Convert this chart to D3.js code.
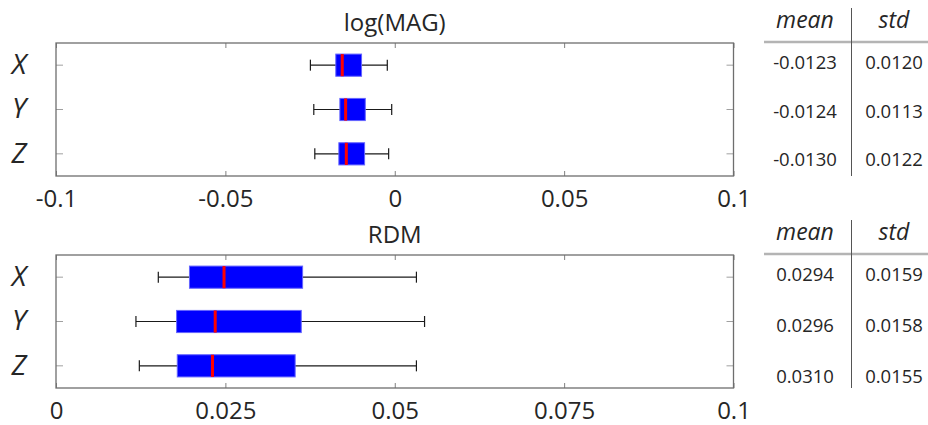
<!DOCTYPE html>
<meta charset="utf-8">
<head>
    <script src="https://d3js.org/d3.v7.min.js"></script>
    <style>
        body { margin: 0; background: #fff; }
        .tick text { fill: #262626; }
    </style>
</head>
<body>
<div id="graph"></div>
<script>
    // data
    var categories = ["X", "Y", "Z"];

    var magMin = [-0.0249, -0.0239, -0.0236];
    var magQ1  = [-0.0174, -0.0162, -0.0165];
    var magMed = [-0.0155, -0.0145, -0.0143];
    var magQ3  = [-0.0098, -0.0087, -0.0089];
    var magMax = [-0.0022, -0.0009, -0.0018];
    var magMean = ["-0.0123", "-0.0124", "-0.0130"];
    var magStd  = ["0.0120", "0.0113", "0.0122"];
    var magTicks = [-0.1, -0.05, 0, 0.05, 0.1];
    var magTickLabels = ["-0.1", "-0.05", "0", "0.05", "0.1"];

    var rdmMin = [0.0151, 0.0118, 0.0123];
    var rdmQ1  = [0.0197, 0.0178, 0.0179];
    var rdmMed = [0.0248, 0.0235, 0.0231];
    var rdmQ3  = [0.0364, 0.0362, 0.0353];
    var rdmMax = [0.0532, 0.0544, 0.0532];
    var rdmMean = ["0.0294", "0.0296", "0.0310"];
    var rdmStd  = ["0.0159", "0.0158", "0.0155"];
    var rdmTicks = [0, 0.025, 0.05, 0.075, 0.1];
    var rdmTickLabels = ["0", "0.025", "0.05", "0.075", "0.1"];

    var tableHeaders = ["mean", "std"];

    var W = 928, H = 425;
    var font = "'Open Sans', sans-serif";

    var svg = d3.select("#graph")
      .append("svg")
        .attr("width", W)
        .attr("height", H);

    function drawPanel(opts) {
        var left = 56, right = 733.5;
        var top = opts.top, bottom = opts.top + 133;
        var height = bottom - top;

        var x = d3.scaleLinear().domain(opts.domain).range([left, right]);
        var y = d3.scaleBand().domain(categories).range([top, bottom]);
        var bh = y.bandwidth() * 0.5;

        var g = svg.append("g");

        // title
        g.append("text")
            .attr("x", (left + right) / 2)
            .attr("y", top - 12)
            .attr("text-anchor", "middle")
            .style("font", "24px " + font)
            .style("fill", "#262626")
            .text(opts.title);

        // bottom axis with labels
        var xAxis = d3.axisBottom(x)
            .tickValues(opts.ticks)
            .tickFormat(function(d, i) { return opts.tickLabels[i]; })
            .tickSizeInner(-5)
            .tickSizeOuter(0)
            .tickPadding(14);
        var gx = g.append("g")
            .attr("transform", "translate(0," + bottom + ")")
            .call(xAxis);
        gx.select(".domain").remove();
        gx.selectAll("line").attr("stroke", "#808080");
        gx.selectAll("text").style("font", "24px " + font);

        // top mirrored ticks
        var gt = g.append("g")
            .attr("transform", "translate(0," + top + ")")
            .call(d3.axisTop(x).tickValues(opts.ticks).tickFormat("").tickSizeInner(-5).tickSizeOuter(0));
        gt.select(".domain").remove();
        gt.selectAll("line").attr("stroke", "#808080");

        // left axis with labels
        var gy = g.append("g")
            .attr("transform", "translate(" + left + ",0)")
            .call(d3.axisLeft(y).tickSizeInner(-7).tickSizeOuter(0).tickPadding(37));
        gy.select(".domain").remove();
        gy.selectAll("line").attr("stroke", "#a0a0a0");
        gy.selectAll("text")
            .attr("text-anchor", "middle")
            .style("font", "italic 28px " + font);

        // right mirrored ticks
        var gr = g.append("g")
            .attr("transform", "translate(" + right + ",0)")
            .call(d3.axisRight(y).tickFormat("").tickSizeInner(-7).tickSizeOuter(0));
        gr.select(".domain").remove();
        gr.selectAll("line").attr("stroke", "#a0a0a0");

        // frame
        g.append("rect")
            .attr("x", left)
            .attr("y", top)
            .attr("width", right - left)
            .attr("height", height)
            .attr("fill", "none")
            .attr("stroke", "#6e6e6e")
            .attr("stroke-width", 1.3);

        var rows = categories.map(function(c, i) {
            return { cat: c, min: opts.min[i], q1: opts.q1[i], med: opts.med[i], q3: opts.q3[i], max: opts.max[i] };
        });

        var box = g.selectAll(".box")
            .data(rows)
            .enter()
            .append("g")
            .attr("class", "box");

        // whiskers
        box.append("line")
            .attr("x1", function(d) { return x(d.min); })
            .attr("x2", function(d) { return x(d.max); })
            .attr("y1", function(d) { return y(d.cat) + y.bandwidth() / 2; })
            .attr("y2", function(d) { return y(d.cat) + y.bandwidth() / 2; })
            .attr("stroke", "#1a1a1a")
            .attr("stroke-width", 1.2);
        ["min", "max"].forEach(function(k) {
            box.append("line")
                .attr("x1", function(d) { return x(d[k]); })
                .attr("x2", function(d) { return x(d[k]); })
                .attr("y1", function(d) { return y(d.cat) + y.bandwidth() / 2 - 5.5; })
                .attr("y2", function(d) { return y(d.cat) + y.bandwidth() / 2 + 5.5; })
                .attr("stroke", "#1a1a1a")
                .attr("stroke-width", 1.2);
        });

        // boxes
        box.append("rect")
            .attr("x", function(d) { return x(d.q1); })
            .attr("y", function(d) { return y(d.cat) + (y.bandwidth() - bh) / 2; })
            .attr("width", function(d) { return x(d.q3) - x(d.q1); })
            .attr("height", bh)
            .attr("fill", "#0000ff")
            .attr("stroke", "#6464ff")
            .attr("stroke-width", 1);

        // medians
        box.append("line")
            .attr("x1", function(d) { return x(d.med); })
            .attr("x2", function(d) { return x(d.med); })
            .attr("y1", function(d) { return y(d.cat) + (y.bandwidth() - bh) / 2; })
            .attr("y2", function(d) { return y(d.cat) + (y.bandwidth() + bh) / 2; })
            .attr("stroke", "#ff0000")
            .attr("stroke-width", 3);

        // table
        var colX = [805, 894];
        var t = svg.append("g");
        t.selectAll(".hdr")
            .data(tableHeaders)
            .enter()
            .append("text")
            .attr("x", function(d, i) { return colX[i]; })
            .attr("y", opts.top - 15)
            .attr("text-anchor", "middle")
            .style("font", "italic 23px " + font)
            .style("fill", "#262626")
            .text(function(d) { return d; });
        t.append("line")
            .attr("x1", 764).attr("x2", 928)
            .attr("y1", opts.top - 1).attr("y2", opts.top - 1)
            .attr("stroke", "#b4b4b4")
            .attr("stroke-width", 2.5);
        t.append("line")
            .attr("x1", 851.5).attr("x2", 851.5)
            .attr("y1", opts.top - 35).attr("y2", bottom)
            .attr("stroke", "#555")
            .attr("stroke-width", 1);
        var ty = d3.scaleLinear().domain([0, 2]).range(opts.rowY);
        categories.forEach(function(c, i) {
            t.append("text")
                .attr("x", colX[0]).attr("y", ty(i))
                .attr("dy", "0.35em")
                .attr("text-anchor", "middle")
                .style("font", "18.5px " + font)
                .style("fill", "#262626")
                .text(opts.mean[i]);
            t.append("text")
                .attr("x", colX[1]).attr("y", ty(i))
                .attr("dy", "0.35em")
                .attr("text-anchor", "middle")
                .style("font", "18.5px " + font)
                .style("fill", "#262626")
                .text(opts.std[i]);
        });
    }

    drawPanel({
        title: "log(MAG)", top: 43, domain: [-0.1, 0.1],
        ticks: magTicks, tickLabels: magTickLabels,
        min: magMin, q1: magQ1, med: magMed, q3: magQ3, max: magMax,
        mean: magMean, std: magStd, rowY: [63, 160]
    });
    drawPanel({
        title: "RDM", top: 255, domain: [0, 0.1],
        ticks: rdmTicks, tickLabels: rdmTickLabels,
        min: rdmMin, q1: rdmQ1, med: rdmMed, q3: rdmQ3, max: rdmMax,
        mean: rdmMean, std: rdmStd, rowY: [275, 377]
    });
</script>
</body>
